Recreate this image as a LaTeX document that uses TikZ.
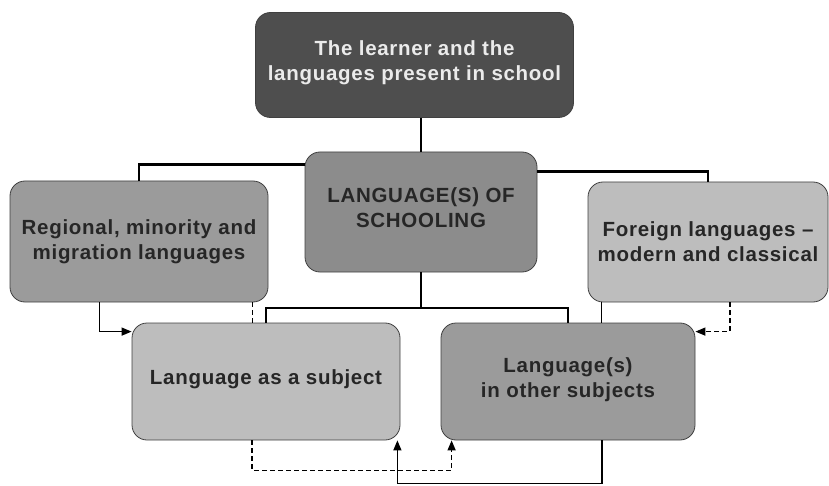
\documentclass[tikz,border=0pt]{standalone}
\usepackage{fontspec}
\setmainfont{Liberation Sans}[LetterSpace=3.5]
\usetikzlibrary{arrows.meta}

\definecolor{topgray}{HTML}{4E4E4E}
\definecolor{midgray}{HTML}{8C8C8C}
\definecolor{sidegray}{HTML}{9B9B9B}
\definecolor{lightgray}{HTML}{BDBDBD}

% pushes the text of a box a little upwards
\newcommand{\boxlift}{\\[-17pt]}

\begin{document}
\begin{tikzpicture}[x=1pt, y=-1pt,
    box/.style={draw=black!75, line width=0.8pt, rounded corners=15pt,
        align=center, text=black!85, inner sep=2pt,
        font=\bfseries\fontsize{20.5}{25}\selectfont},
    tree/.style={line width=2.6pt},
    link/.style={line width=1.4pt, -{Triangle[length=10pt,width=8pt]}},
    dlink/.style={link, dash pattern=on 5pt off 3pt},
    dline/.style={line width=1.4pt, dash pattern=on 5pt off 3pt}]
        \useasboundingbox (0,0) rectangle (829,486);

        % learner
        \node[box, fill=topgray, text=white!92!black, minimum width=318pt, minimum height=105pt]
            (learner) at (414.5,65) {The learner and the\\languages present in school\boxlift};

        % language(s) of schooling
        \node[box, fill=midgray, minimum width=232pt, minimum height=120pt]
            (schooling) at (421,212) {LANGUAGE(S) OF\\SCHOOLING\boxlift};

        % regional and foreign languages
        \node[box, fill=sidegray, minimum width=258pt, minimum height=121pt]
            (regional) at (139,241.5) {Regional, minority and\\migration languages};
        \node[box, fill=lightgray, minimum width=240pt, minimum height=120pt]
            (foreign) at (708,242) {Foreign languages --\\modern and classical};

        % subject and other subjects
        \node[box, fill=lightgray, minimum width=268pt, minimum height=117pt]
            (subject) at (266,381.5) {Language as a subject\boxlift};
        \node[box, fill=sidegray, minimum width=254pt, minimum height=117pt]
            (others) at (568,381.5) {Language(s)\\in other subjects\boxlift};

        % tree lines
        \coordinate (split) at (421,308);
        \draw[tree] (learner.south -| schooling.north) -- (schooling.north);
        \draw[tree] (regional.north) |- ([yshift=-13pt]schooling.north west);
        \draw[tree] (foreign.north) |- ([yshift=-20pt]schooling.north east);
        \draw[tree] (schooling.south) -- (split);
        \draw[tree] (subject.north) |- (split) -| (others.north);

        % links between the boxes
        \draw[link] ([xshift=90pt]regional.south west) |- ([yshift=-9pt]subject.north west);
        \draw[dline] ([xshift=-16pt]regional.south east) -- ([xshift=-16pt]regional.south east |- subject.north);
        \draw[line width=1.4pt] ([xshift=14pt]foreign.south west) -- ([xshift=14pt]foreign.south west |- others.north);
        \draw[dlink] ([xshift=22pt]foreign.south) |- ([yshift=-9pt]others.north east);
        \draw[link] ([xshift=34pt]others.south) -- ++(0,43) -| ([xshift=-3pt]subject.south east);
        \draw[dlink] ([xshift=-14pt]subject.south) -- ++(0,30) -| ([xshift=11pt]others.south west);
    \end{tikzpicture}
\end{document}
